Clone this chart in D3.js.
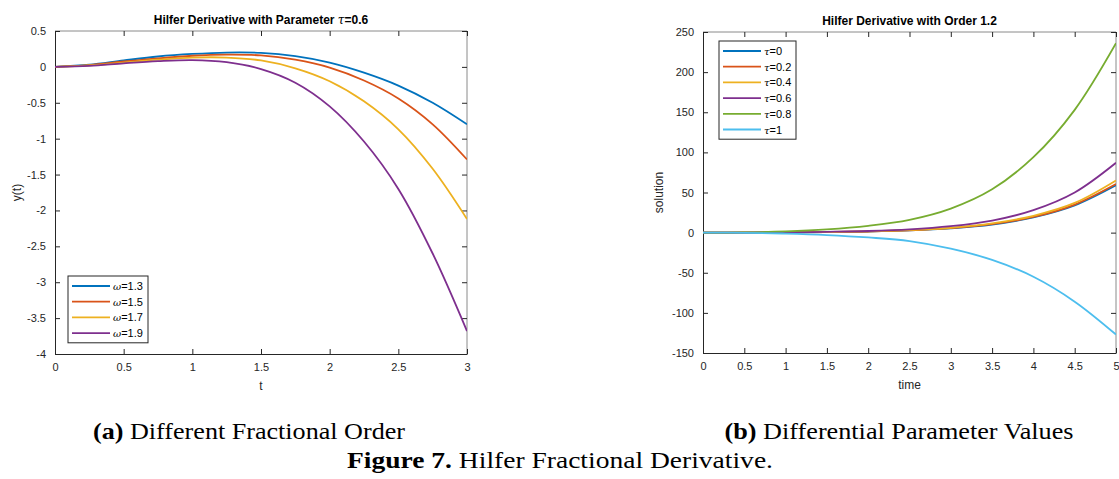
<!DOCTYPE html>
<html>
<head>
<meta charset="utf-8">
<script src="https://cdn.jsdelivr.net/npm/d3@7"></script>
<style>
  body { margin: 0; background: #fff; }
  svg { display: block; }
  .tick text { font-family: 'Liberation Sans', Arial, sans-serif; font-size: 11px; fill: #262626; }
</style>
</head>
<body>
<svg id="chart" width="1119" height="479"></svg>
<script>
// panel (a): y(t) for several fractional orders omega, tau = 0.6
const tA = [0, 0.25, 0.5, 0.75, 1, 1.25, 1.5, 1.75, 2, 2.25, 2.5, 2.75, 3];
const omegaLabels = ['1.3', '1.5', '1.7', '1.9'];
const yOmega13 = [0, 0.03, 0.09, 0.145, 0.18, 0.2, 0.195, 0.15, 0.06, -0.08, -0.26, -0.5, -0.8];
const yOmega15 = [0, 0.025, 0.075, 0.12, 0.155, 0.17, 0.16, 0.1, -0.01, -0.19, -0.44, -0.8, -1.29];
const yOmega17 = [0, 0.02, 0.06, 0.1, 0.13, 0.13, 0.09, -0.02, -0.2, -0.48, -0.87, -1.42, -2.12];
const yOmega19 = [0, 0.015, 0.05, 0.08, 0.095, 0.065, -0.03, -0.22, -0.55, -1.04, -1.7, -2.6, -3.68];

// panel (b): solution for several tau, order 1.2
const tB = [0, 0.5, 1, 1.5, 2, 2.5, 3, 3.5, 4, 4.5, 5];
const tauLabels = ['0', '0.2', '0.4', '0.6', '0.8', '1'];
const sTau0 = [0, 0, 0.2, 0.6, 1.3, 2.7, 5.3, 10, 19, 34, 59];
const sTau02 = [0, 0, 0.2, 0.6, 1.4, 2.8, 5.5, 10.5, 19.5, 35, 60.5];
const sTau04 = [0, 0, 0.2, 0.7, 1.5, 3, 6, 11.5, 21, 37, 65];
const sTau06 = [0, 0, 0.3, 1, 2, 4, 8, 15, 28, 50, 87];
const sTau08 = [0, 0.3, 1.5, 4, 8.5, 16, 30, 54, 94, 153, 236];
const sTau1 = [0, -0.2, -1.2, -3, -6, -10.5, -20, -34, -55, -86, -127];

const colors = ['#0072BD', '#D95319', '#EDB120', '#7E2F8E', '#77AC30', '#4DBEEE'];
const fmt = (v) => String(+v.toFixed(2)).replace('\u2212', '-');

const svg = d3.select('#chart');

function drawPanel(opt) {
  const { left, right, top, bottom } = opt.box;
  const x = d3.scaleLinear().domain(opt.xDomain).range([left, right]);
  const y = d3.scaleLinear().domain(opt.yDomain).range([bottom, top]);
  const g = svg.append('g');

  // frame (top/right lighter, as MATLAB box)
  g.append('line').attr('x1', left).attr('x2', right).attr('y1', top).attr('y2', top)
    .attr('stroke', '#8a8a8a');
  g.append('line').attr('x1', right).attr('x2', right).attr('y1', top).attr('y2', bottom)
    .attr('stroke', '#8a8a8a');

  // inward ticks on mirrored sides
  g.append('g').attr('transform', `translate(0,${top})`)
    .call(d3.axisTop(x).tickValues(opt.xTicks).tickSize(-5).tickFormat(''))
    .call((a) => a.select('.domain').remove())
    .selectAll('line').attr('stroke', '#262626');
  g.append('g').attr('transform', `translate(${right},0)`)
    .call(d3.axisRight(y).tickValues(opt.yTicks).tickSize(-5).tickFormat(''))
    .call((a) => a.select('.domain').remove())
    .selectAll('line').attr('stroke', '#262626');

  const xAxis = g.append('g').attr('transform', `translate(0,${bottom})`)
    .call(d3.axisBottom(x).tickValues(opt.xTicks).tickSizeInner(-5).tickSizeOuter(0)
      .tickPadding(9).tickFormat(fmt));
  const yAxis = g.append('g').attr('transform', `translate(${left},0)`)
    .call(d3.axisLeft(y).tickValues(opt.yTicks).tickSizeInner(-5).tickSizeOuter(0)
      .tickPadding(9).tickFormat(fmt));
  [xAxis, yAxis].forEach((a) => {
    a.select('.domain').attr('stroke', '#262626');
    a.selectAll('.tick line').attr('stroke', '#262626');
  });

  // curves
  const line = d3.line()
    .x((d) => x(d[0]))
    .y((d) => y(d[1]))
    .curve(d3.curveCatmullRom.alpha(0.5));
  const clipId = 'clip' + opt.id;
  g.append('clipPath').attr('id', clipId).append('rect')
    .attr('x', left).attr('y', top - 1).attr('width', right - left).attr('height', bottom - top + 2);
  g.append('g').attr('clip-path', `url(#${clipId})`)
    .selectAll('path').data(opt.series).join('path')
    .attr('fill', 'none')
    .attr('stroke', (d, i) => colors[i])
    .attr('stroke-width', 1.8)
    .attr('d', (d) => line(opt.xs.map((t, i) => [t, d[i]])));

  // title
  const title = g.append('text')
    .attr('x', (left + right) / 2).attr('y', top - 7)
    .attr('text-anchor', 'middle')
    .attr('font-family', "'Liberation Sans', Arial, sans-serif")
    .attr('font-size', 12).attr('font-weight', 'bold').attr('fill', '#000');
  title.append('tspan').text(opt.title);
  if (opt.titleSym) {
    title.append('tspan').attr('font-family', "'DejaVu Serif', serif")
      .attr('font-style', 'italic').attr('font-weight', 'normal').text(opt.titleSym);
    title.append('tspan').text(opt.titleTail);
  }

  // axis labels
  g.append('text').attr('x', (left + right) / 2).attr('y', bottom + 36)
    .attr('text-anchor', 'middle').attr('font-family', "'Liberation Sans', Arial, sans-serif")
    .attr('font-size', 12).attr('fill', '#262626').text(opt.xLabel);
  g.append('text')
    .attr('transform', `translate(${opt.yLabelX},${(top + bottom) / 2}) rotate(-90)`)
    .attr('text-anchor', 'middle').attr('font-family', "'Liberation Sans', Arial, sans-serif")
    .attr('font-size', 12).attr('fill', '#262626').text(opt.yLabel);

  // legend
  const L = opt.legend;
  const lg = g.append('g');
  lg.append('rect').attr('x', L.x).attr('y', L.y).attr('width', L.w)
    .attr('height', L.step * opt.series.length + 4)
    .attr('fill', '#fff').attr('stroke', '#262626').attr('stroke-width', 1);
  opt.labels.forEach((lab, i) => {
    const cy = L.y + 10 + i * L.step;
    lg.append('line').attr('x1', L.x + 4).attr('x2', L.x + 42).attr('y1', cy).attr('y2', cy)
      .attr('stroke', colors[i]).attr('stroke-width', 1.8);
    const t = lg.append('text').attr('x', L.x + 45).attr('y', cy + 4)
      .attr('font-family', "'Liberation Sans', Arial, sans-serif")
      .attr('font-size', 11).attr('fill', '#000');
    t.append('tspan').attr('font-family', "'DejaVu Serif', serif").attr('font-style', 'italic')
      .attr('font-size', 10).text(L.sym);
    t.append('tspan').text('=' + lab);
  });
}

drawPanel({
  id: 'a',
  box: { left: 55, right: 467, top: 31, bottom: 354 },
  xDomain: [0, 3], yDomain: [-4, 0.5],
  xTicks: d3.range(0, 3.01, 0.5), yTicks: d3.range(-4, 0.51, 0.5),
  xs: tA,
  series: [yOmega13, yOmega15, yOmega17, yOmega19],
  labels: omegaLabels,
  title: 'Hilfer Derivative with Parameter ', titleSym: '\u03C4', titleTail: '=0.6',
  xLabel: 't', yLabel: 'y(t)', yLabelX: 21,
  legend: { x: 68, y: 276, w: 80, step: 15.7, sym: '\u03C9' },
});

drawPanel({
  id: 'b',
  box: { left: 703, right: 1116, top: 32, bottom: 353 },
  xDomain: [0, 5], yDomain: [-150, 250],
  xTicks: d3.range(0, 5.01, 0.5), yTicks: d3.range(-150, 251, 50),
  xs: tB,
  series: [sTau0, sTau02, sTau04, sTau06, sTau08, sTau1],
  labels: tauLabels,
  title: 'Hilfer Derivative with Order 1.2',
  xLabel: 'time', yLabel: 'solution', yLabelX: 663,
  legend: { x: 719, y: 41, w: 77, step: 15.7, sym: '\u03C4' },
});

// sub-captions and figure caption
const capFont = "'Liberation Serif', 'Times New Roman', serif";
function caption(xc, yb, bold, rest, width) {
  const t = svg.append('text').attr('x', xc).attr('y', yb).attr('text-anchor', 'middle')
    .attr('font-family', capFont).attr('font-size', 23).attr('fill', '#000')
    .attr('textLength', width).attr('lengthAdjust', 'spacingAndGlyphs');
  t.append('tspan').attr('font-weight', 'bold').text(bold);
  t.append('tspan').text(rest);
}
caption(249, 439, '(a)', ' Different Fractional Order', 312);
caption(899, 439, '(b)', ' Differential Parameter Values', 349);
caption(560, 468, 'Figure 7.', ' Hilfer Fractional Derivative.', 426);
</script>
</body>
</html>
